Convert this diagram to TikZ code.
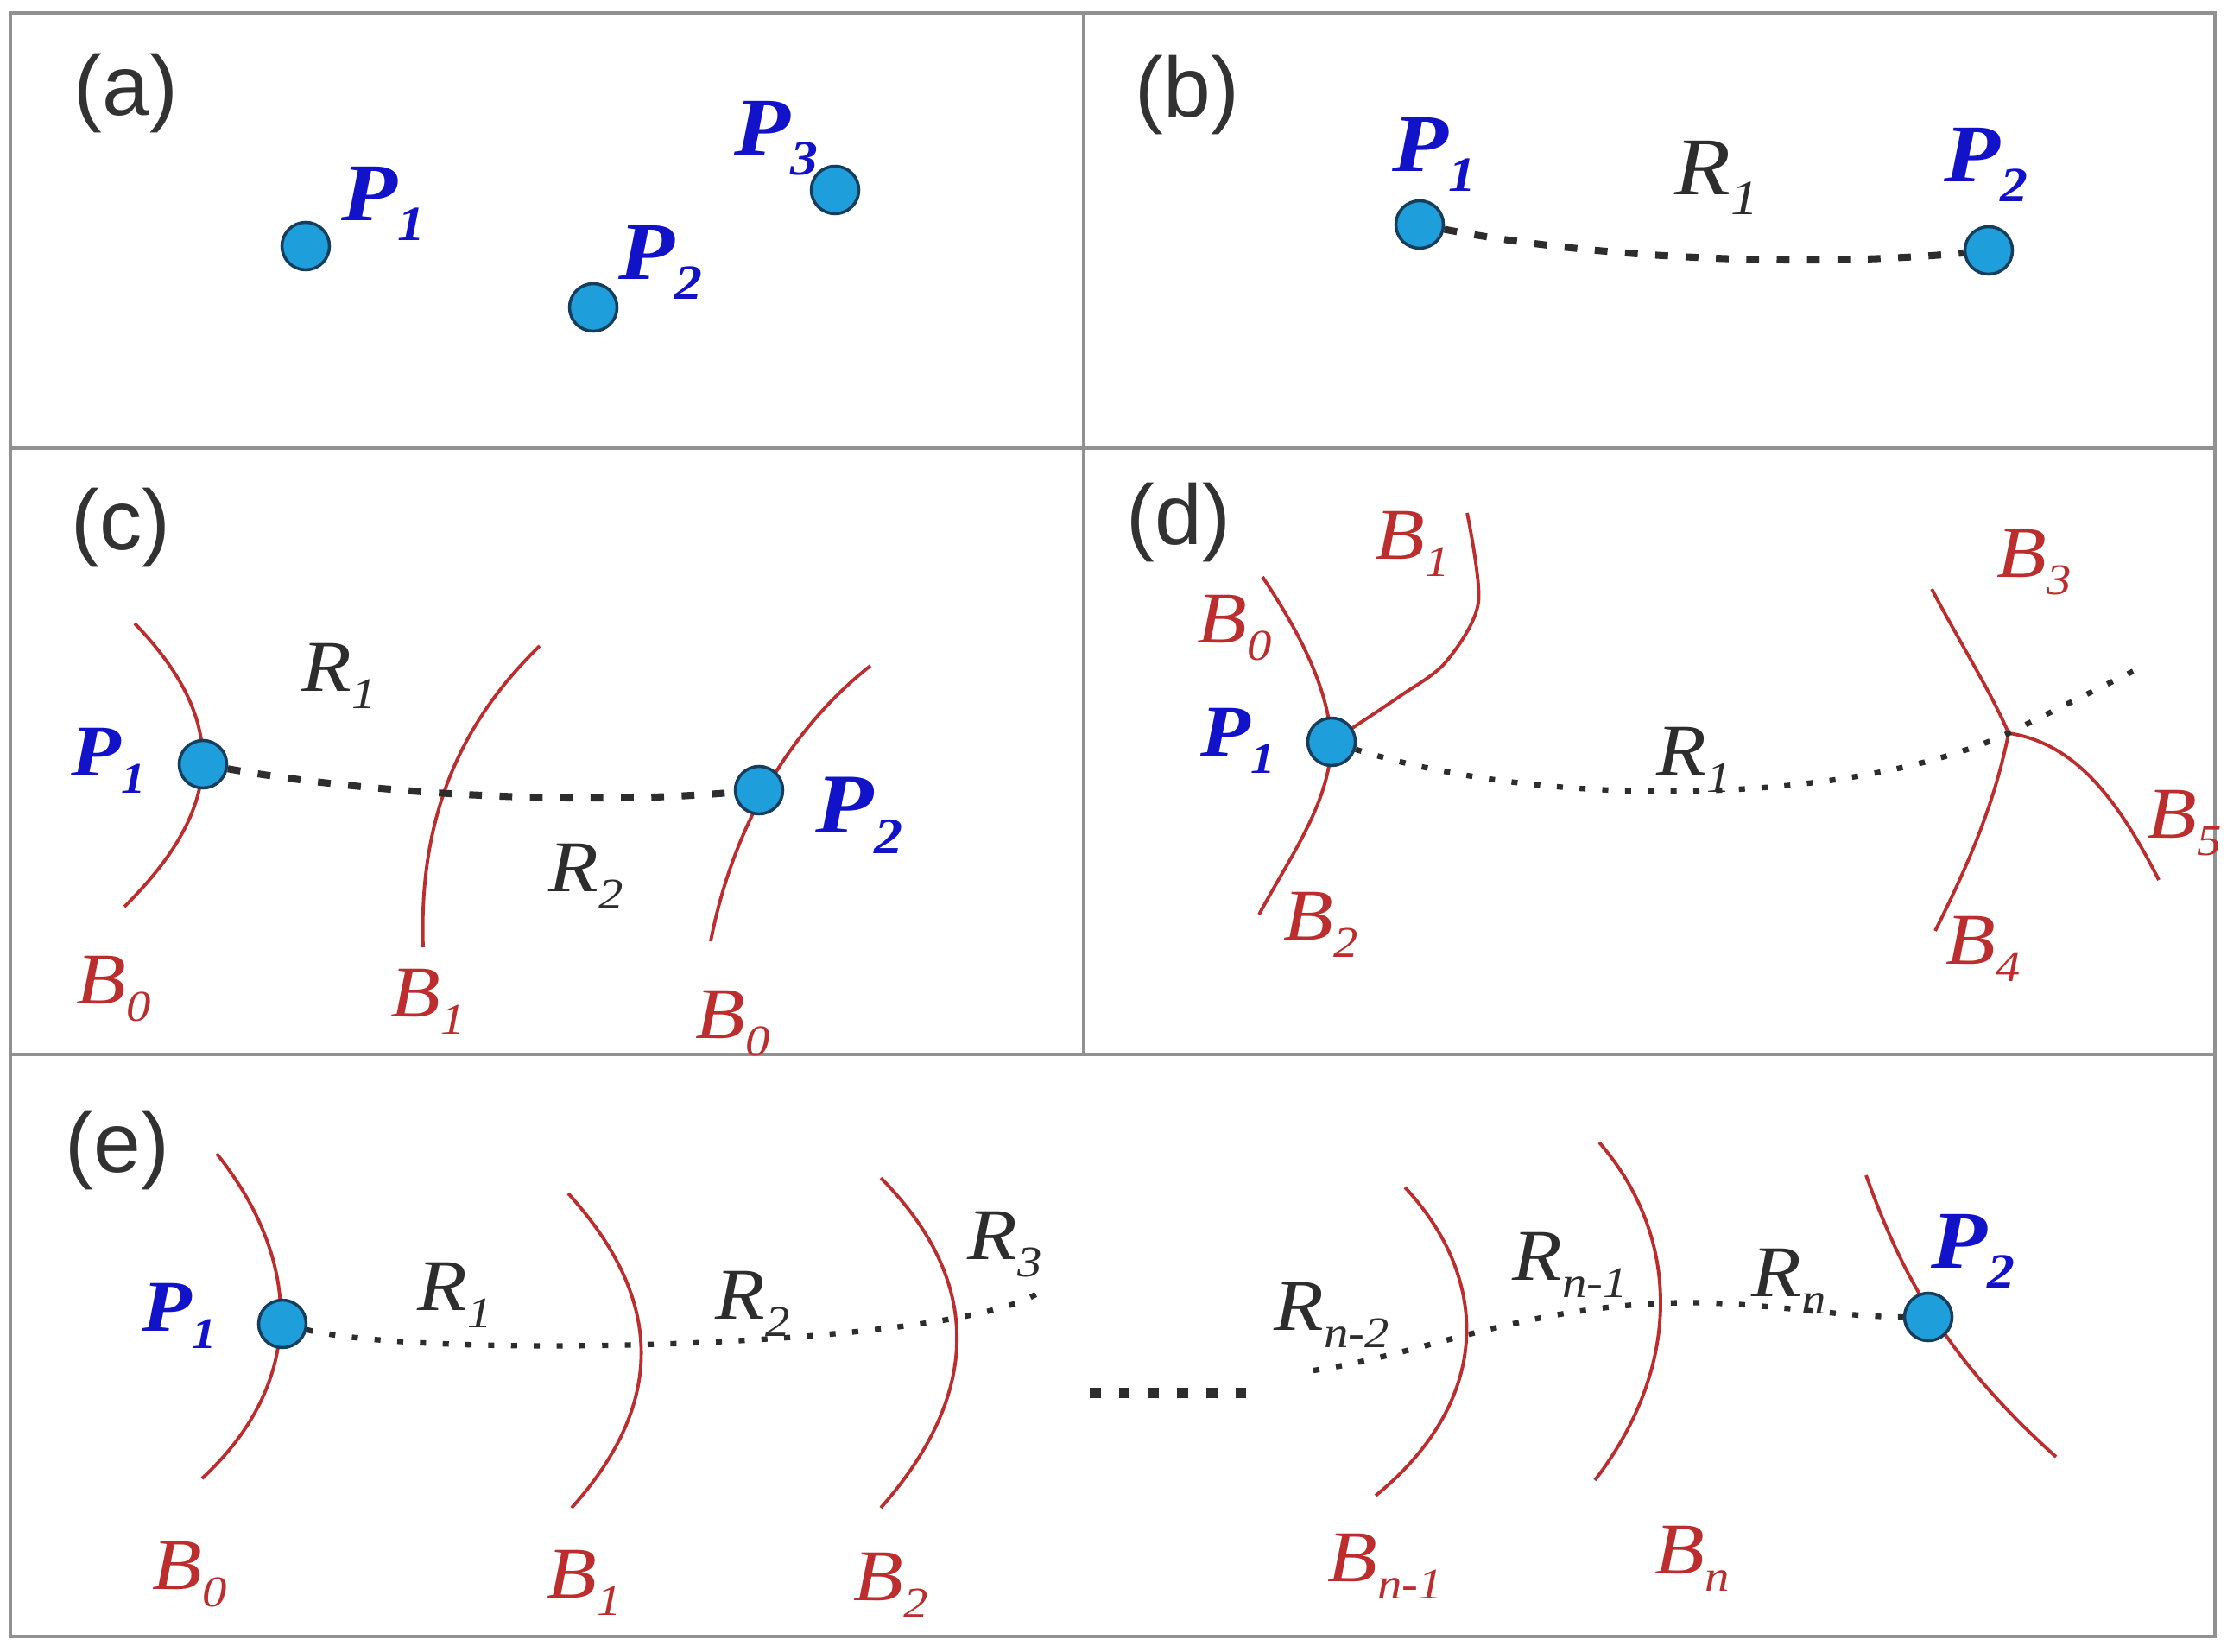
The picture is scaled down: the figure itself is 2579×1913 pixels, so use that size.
\documentclass[tikz,border=0pt]{standalone}
\usepackage{fontspec}
\setmainfont{Liberation Serif}[FakeStretch=1.12]
\newfontfamily\tagfont{Liberation Sans}
\usepackage{graphicx}
\usepackage{tikz}
\usetikzlibrary{positioning}

\definecolor{dotfill}{RGB}{30,158,218}
\definecolor{dotline}{RGB}{22,62,92}
\definecolor{ptblue}{RGB}{18,18,200}
\definecolor{bred}{RGB}{188,46,46}
\definecolor{rgray}{RGB}{45,45,45}
\definecolor{framegray}{RGB}{145,145,145}
\definecolor{taggray}{RGB}{50,50,50}

% subscript of a label
\newcommand{\lsub}[1]{\raisebox{-0.24em}{\scalebox{0.6}{#1}}}

\begin{document}
\begin{tikzpicture}[
x=0.01cm, y=-0.01cm,
panel/.style={draw=framegray, line width=1.1pt},
paneltag/.style={text=taggray, font=\tagfont\fontsize{28}{28}\selectfont, inner sep=0pt},
ptdot/.style={circle, draw=dotline, fill=dotfill, line width=1pt, minimum size=0.55cm, inner sep=0pt},
plab/.style={text=ptblue, font=\bfseries\itshape\fontsize{#1}{#1}\selectfont, inner sep=0pt},
plab/.default=24,
blab/.style={text=bred, font=\itshape\fontsize{#1}{#1}\selectfont, inner sep=0pt},
blab/.default=24,
rlab/.style={text=rgray, font=\itshape\fontsize{#1}{#1}\selectfont, inner sep=0pt},
rlab/.default=24,
bound/.style={draw=bred, line width=1.1pt},
thickdots/.style={draw=rgray, line width=2.3pt, dash pattern=on 4.2pt off 5.8pt},
thindots/.style={draw=rgray, line width=1.8pt, dash pattern=on 2pt off 5.5pt}
]

\useasboundingbox (0,0) rectangle (2579,1913);
\fill[white] (0,0) rectangle (2579,1913);

% Frames
\draw[panel] (12,15) rectangle (2565,1895);
\draw[panel] (12,519) -- (2565,519);
\draw[panel] (12,1221) -- (2565,1221);
\draw[panel] (1255,15) -- (1255,1221);

% Panel (a)
\node[paneltag] (taga) at (146,108) {(a)};
\node[ptdot] (a1) at (354,285) {};
\node[ptdot] (a2) at (687,356) {};
\node[ptdot] (a3) at (967,220) {};
\node[plab=27] (la1) at (444,236) {P\lsub{1}};
\node[plab=27] (la2) at (765,304) {P\lsub{2}};
\node[plab=27] (la3) at (899,160) {P\lsub{3}};

% Panel (b)
\node[paneltag] (tagb) at (1375,110) {(b)};
\node[ptdot] (b1) at (1644,260) {};
\node[ptdot] (b2) at (2303,290) {};
\node[plab=27] (lb1) at (1661,179) {P\lsub{1}};
\node[plab=27] (lb2) at (2300,191) {P\lsub{2}};
\node[rlab=27] (rb1) at (1988,206) {R\lsub{1}};
\draw[thickdots] (b1) .. controls (1850,300) and (2100,310) .. (b2);

% Panel (c)
\node[paneltag] (tagc) at (140,611) {(c)};
\coordinate (c1pos) at (235,885);
\coordinate (c2pos) at (879,915);
\draw[bound] (156,722) .. controls (270,840) and (255,940) .. (144,1050);
\draw[bound] (625,748) .. controls (530,840) and (485,950) .. (490,1097);
\draw[bound] (1008,771) .. controls (920,840) and (850,950) .. (823,1090);
\node[ptdot] (c1) at (c1pos) {};
\node[ptdot] (c2) at (c2pos) {};
\draw[thickdots] (c1) .. controls (400,915) and (650,935) .. (c2);
\node[plab] (lc1) at (126,881) {P\lsub{1}};
\node[plab=28] (lc2) at (995,944) {P\lsub{2}};
\node[rlab] (rc1) at (393,783) {R\lsub{1}};
\node[rlab] (rc2) at (679,1015) {R\lsub{2}};
\node[blab] (bc0) at (132,1145) {B\lsub{0}};
\node[blab] (bc1) at (496,1160) {B\lsub{1}};
\node[blab] (bc2) at (849,1185) {B\lsub{0}};

% Panel (d)
\node[paneltag] (tagd) at (1365,605) {(d)};
\coordinate (d1pos) at (1542,859);
\coordinate (dj) at (2326,849);
\coordinate (dend) at (2487,769);
\draw[bound] (1462,668) .. controls (1510,740) and (1538,800) .. (d1pos);
\draw[bound] plot[smooth] coordinates {(d1pos) (1620,807) (1674,767) (1712,698) (1699,594)};
\draw[bound] (d1pos) .. controls (1540,930) and (1495,990) .. (1458,1059);
\draw[bound] (2237,682) .. controls (2270,745) and (2305,800) .. (dj);
\draw[bound] (dj) .. controls (2310,930) and (2280,1000) .. (2241,1078);
\draw[bound] (dj) .. controls (2400,860) and (2450,920) .. (2500,1019);
\node[ptdot] (d1) at (d1pos) {};
\draw[thindots] (d1) .. controls (1800,940) and (2150,930) .. (dj) -- (dend);
\node[plab] (ld1) at (1434,858) {P\lsub{1}};
\node[rlab] (rd1) at (1962,880) {R\lsub{1}};
\node[blab] (bd0) at (1430,727) {B\lsub{0}};
\node[blab] (bd1) at (1636,630) {B\lsub{1}};
\node[blab] (bd2) at (1530,1071) {B\lsub{2}};
\node[blab] (bd3) at (2356,651) {B\lsub{3}};
\node[blab] (bd4) at (2297,1099) {B\lsub{4}};
\node[blab] (bd5) at (2530,953) {B\lsub{5}};

% Panel (e)
\node[paneltag] (tage) at (136,1332) {(e)};
\coordinate (e1pos) at (327,1533);
\coordinate (e2pos) at (2233,1525);
\coordinate (er3) at (1201,1498);
\coordinate (ern) at (1521,1587);
\coordinate (ell1) at (1262,1613);
\coordinate (ell2) at (1446,1613);
\draw[bound] (251,1336) .. controls (350,1460) and (355,1600) .. (234,1712);
\draw[bound] (658,1382) .. controls (765,1500) and (775,1620) .. (662,1746);
\draw[bound] (1020,1364) .. controls (1135,1480) and (1140,1610) .. (1020,1746);
\draw[bound] (1627,1375) .. controls (1725,1480) and (1730,1620) .. (1593,1732);
\draw[bound] (1852,1323) .. controls (1945,1430) and (1950,1580) .. (1847,1714);
\draw[bound] (2161,1361) .. controls (2200,1470) and (2250,1570) .. (2381,1687);
\node[ptdot] (e1) at (e1pos) {};
\node[ptdot] (e2) at (e2pos) {};
\draw[thindots] (e1) .. controls (500,1575) and (1100,1560) .. (er3);
\draw[thindots] (ern) .. controls (1640,1570) and (1760,1515) .. (1928,1509) .. controls (2030,1505) and (2120,1525) .. (e2);
\draw[draw=rgray, line width=3.6pt, dash pattern=on 3.6pt off 6pt] (ell1) -- (ell2);
\node[plab] (le1) at (208,1524) {P\lsub{1}};
\node[plab=27] (le2) at (2285,1449) {P\lsub{2}};
\node[rlab] (re1) at (527,1500) {R\lsub{1}};
\node[rlab] (re2) at (872,1510) {R\lsub{2}};
\node[rlab] (re3) at (1164,1441) {R\lsub{3}};
\node[rlab] (ren2) at (1542,1523) {R\lsub{n-2}};
\node[rlab] (ren1) at (1818,1465) {R\lsub{n-1}};
\node[rlab] (ren) at (2072,1484) {R\lsub{n}};
\node[blab] (be0) at (220,1823) {B\lsub{0}};
\node[blab] (be1) at (677,1833) {B\lsub{1}};
\node[blab] (be2) at (1032,1836) {B\lsub{2}};
\node[blab] (ben1) at (1604,1814) {B\lsub{n-1}};
\node[blab] (ben) at (1960,1805) {B\lsub{n}};

\end{tikzpicture}
\end{document}
